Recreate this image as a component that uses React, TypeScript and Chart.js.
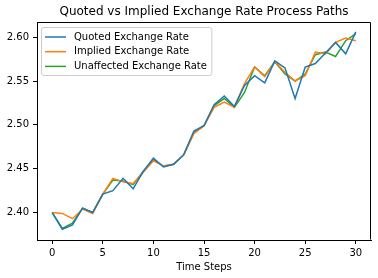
import React, { useEffect, useRef } from 'react';
import { Chart, registerables } from 'chart.js';

Chart.register(...registerables);

const FONT = '"DejaVu Sans", "Liberation Sans", sans-serif';

const chartTitle = 'Quoted vs Implied Exchange Rate Process Paths';
const xAxisTitle = 'Time Steps';

const timeSteps = [0, 1, 2, 3, 4, 5, 6, 7, 8, 9, 10, 11, 12, 13, 14, 15, 16, 17, 18, 19, 20, 21, 22, 23, 24, 25, 26, 27, 28, 29, 30];

const quoted = [2.400, 2.381, 2.386, 2.405, 2.400, 2.421, 2.425, 2.439, 2.427, 2.447, 2.462, 2.452, 2.455, 2.466, 2.493, 2.499, 2.523, 2.533, 2.521, 2.545, 2.556, 2.548, 2.573, 2.565, 2.530, 2.566, 2.570, 2.582, 2.594, 2.581, 2.606];
const implied = [2.400, 2.399, 2.393, 2.404, 2.399, 2.421, 2.439, 2.435, 2.433, 2.446, 2.459, 2.453, 2.455, 2.466, 2.490, 2.499, 2.520, 2.526, 2.520, 2.547, 2.566, 2.555, 2.572, 2.560, 2.550, 2.556, 2.583, 2.581, 2.594, 2.599, 2.596];
const unaffected = [2.400, 2.382, 2.388, 2.405, 2.400, 2.421, 2.437, 2.436, 2.432, 2.447, 2.460, 2.453, 2.455, 2.466, 2.491, 2.499, 2.522, 2.530, 2.520, 2.537, 2.566, 2.556, 2.572, 2.558, 2.550, 2.558, 2.580, 2.583, 2.578, 2.596, 2.604];

const seriesLabels = ['Quoted Exchange Rate', 'Implied Exchange Rate', 'Unaffected Exchange Rate'];
const seriesColors = ['#1f77b4', '#ff7f0e', '#2ca02c'];

const xTicks = [0, 5, 10, 15, 20, 25, 30];
const yTicks = [2.40, 2.45, 2.50, 2.55, 2.60];

const framePlugin = {
  id: 'frame',
  afterDatasetsDraw(chart: any) {
    const { ctx, chartArea: ca } = chart;
    ctx.save();
    ctx.strokeStyle = '#000';
    ctx.lineWidth = 1;
    ctx.beginPath();
    ctx.moveTo(Math.round(ca.left) + 0.5, Math.round(ca.top) + 0.5);
    ctx.lineTo(Math.round(ca.right) - 0.5, Math.round(ca.top) + 0.5);
    ctx.lineTo(Math.round(ca.right) - 0.5, Math.round(ca.bottom) - 0.5);
    ctx.stroke();
    ctx.restore();
  },
};

const legendPlugin = {
  id: 'mplLegend',
  afterDraw(chart: any) {
    const { ctx, chartArea: ca } = chart;
    const datasets = chart.data.datasets;
    ctx.save();
    ctx.font = `10px ${FONT}`;
    const textW = Math.max(...datasets.map((d: any) => ctx.measureText(d.label).width));
    const x0 = ca.left + 4.5;
    const y0 = ca.top + 5.5;
    const w = 3.5 + 21 + 8 + textW + 5;
    const h = 48;
    const r = 2.5;
    ctx.beginPath();
    ctx.moveTo(x0 + r, y0);
    ctx.lineTo(x0 + w - r, y0);
    ctx.arcTo(x0 + w, y0, x0 + w, y0 + r, r);
    ctx.lineTo(x0 + w, y0 + h - r);
    ctx.arcTo(x0 + w, y0 + h, x0 + w - r, y0 + h, r);
    ctx.lineTo(x0 + r, y0 + h);
    ctx.arcTo(x0, y0 + h, x0, y0 + h - r, r);
    ctx.lineTo(x0, y0 + r);
    ctx.arcTo(x0, y0, x0 + r, y0, r);
    ctx.closePath();
    ctx.fillStyle = 'rgba(255,255,255,0.8)';
    ctx.fill();
    ctx.strokeStyle = '#cccccc';
    ctx.lineWidth = 1;
    ctx.stroke();
    datasets.forEach((d: any, i: number) => {
      const cy = y0 + 9.5 + i * 14.7;
      ctx.strokeStyle = d.borderColor;
      ctx.lineWidth = 1.5;
      ctx.beginPath();
      ctx.moveTo(x0 + 3.5, cy);
      ctx.lineTo(x0 + 24.5, cy);
      ctx.stroke();
      ctx.fillStyle = '#000';
      ctx.textAlign = 'left';
      ctx.textBaseline = 'middle';
      ctx.fillText(d.label, x0 + 32.5, cy);
    });
    ctx.restore();
  },
};

export default function App() {
  const ref = useRef<HTMLCanvasElement>(null);

  useEffect(() => {
    const canvas = ref.current!;
    const mk = (vals: number[]) => timeSteps.map((x, i) => ({ x, y: vals[i] }));
    const chart = new Chart(canvas, {
      type: 'line',
      data: {
        datasets: [quoted, implied, unaffected].map((vals, k) => ({
          label: seriesLabels[k],
          data: mk(vals),
          borderColor: seriesColors[k],
          backgroundColor: seriesColors[k],
          borderWidth: 1.5,
          pointRadius: 0,
          tension: 0,
          fill: false,
        })),
      },
      options: {
        responsive: false,
        animation: false,
        devicePixelRatio: 1,
        layout: { padding: { left: 0, right: 7, top: 0, bottom: 0 } },
        plugins: {
          legend: { display: false },
          tooltip: { enabled: false },
          title: {
            display: true,
            text: chartTitle,
            fullSize: false,
            color: '#000',
            font: { size: 12, weight: 'normal', family: FONT },
            padding: { top: 5, bottom: 2.6 },
          },
        },
        scales: {
          x: {
            type: 'linear',
            min: -1.5,
            max: 31.5,
            afterBuildTicks: (s: any) => {
              s.ticks = xTicks.map((v) => ({ value: v }));
            },
            afterFit: (s: any) => {
              s.height = 38;
            },
            grid: { display: true, drawOnChartArea: false, drawTicks: true, tickLength: 4, color: '#000' },
            border: { display: true, color: '#000', width: 1 },
            ticks: {
              color: '#000',
              font: { size: 10, family: FONT },
              padding: 3,
              maxRotation: 0,
              autoSkip: false,
              callback: (v: any) => String(v),
            },
            title: {
              display: true,
              text: xAxisTitle,
              color: '#000',
              font: { size: 10, family: FONT },
              padding: { top: 0, bottom: 5 },
            },
          },
          y: {
            type: 'linear',
            min: 2.3687,
            max: 2.6173,
            afterBuildTicks: (s: any) => {
              s.ticks = yTicks.map((v) => ({ value: v }));
            },
            afterFit: (s: any) => {
              s.width = 37;
            },
            grid: { display: true, drawOnChartArea: false, drawTicks: true, tickLength: 4, color: '#000' },
            border: { display: true, color: '#000', width: 1 },
            ticks: {
              color: '#000',
              font: { size: 10, family: FONT },
              padding: 4,
              autoSkip: false,
              callback: (v: any) => Number(v).toFixed(2),
            },
          },
        },
      },
      plugins: [framePlugin, legendPlugin],
    });
    return () => chart.destroy();
  }, []);

  return (
    <div style={{ position: 'fixed', left: 0, top: 0, width: 378, height: 278, background: '#fff' }}>
      <canvas ref={ref} width={378} height={278} style={{ display: 'block', width: 378, height: 278 }} />
    </div>
  );
}
